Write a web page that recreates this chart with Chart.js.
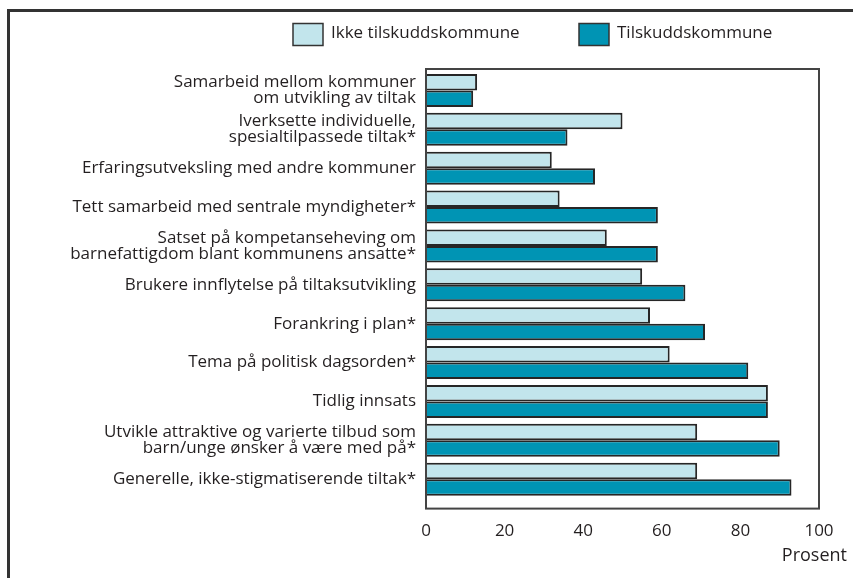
<!DOCTYPE html>
<html>
<head>
<meta charset="utf-8">
<script src="https://cdn.jsdelivr.net/npm/chart.js@4"></script>
<style>
  html, body { margin: 0; padding: 0; background: #fff; }
  #wrap { width: 853px; height: 578px; position: relative; }
</style>
</head>
<body>
<div id="wrap"><canvas id="chart"></canvas></div>
<script>
// kategorier, ovenfra og ned
const categories = [
    ['Samarbeid mellom kommuner', 'om utvikling av tiltak'],
    ['Iverksette individuelle,', 'spesialtilpassede tiltak*'],
    'Erfaringsutveksling med andre kommuner',
    'Tett samarbeid med sentrale myndigheter*',
    ['Satset på kompetanseheving om', 'barnefattigdom blant kommunens ansatte*'],
    'Brukere innflytelse på tiltaksutvikling',
    'Forankring i plan*',
    'Tema på politisk dagsorden*',
    'Tidlig innsats',
    ['Utvikle attraktive og varierte tilbud som', 'barn/unge ønsker å være med på*'],
    'Generelle, ikke-stigmatiserende tiltak*'
];
const ikkeTilskudd = [13, 50, 32, 34, 46, 55, 57, 62, 87, 69, 69];
const tilskudd = [12, 36, 43, 59, 59, 66, 71, 82, 87, 90, 93];
const xTicks = [0, 20, 40, 60, 80, 100];

const FONT = '"Open Sans", "Noto Sans", sans-serif';
const TEXT = '#231f20';

// ramme rundt plottet, tegnforklaring, "Prosent"
const decor = {
    id: 'decor',
    afterDraw(chart) {
        const ctx = chart.ctx;
        const a = chart.chartArea;
        ctx.save();
        // ytre ramme (topp og venstre)
        ctx.strokeStyle = '#333';
        ctx.lineWidth = 3;
        ctx.beginPath();
        ctx.moveTo(8.5, 578);
        ctx.lineTo(8.5, 10.5);
        ctx.lineTo(853, 10.5);
        ctx.stroke();
        // plotboks
        ctx.strokeStyle = '#444';
        ctx.lineWidth = 2;
        ctx.strokeRect(a.left, a.top - 2, a.right - a.left, a.bottom - a.top + 12);
        // tegnforklaring
        const items = [
            { x: 293, ds: chart.data.datasets[0] },
            { x: 579, ds: chart.data.datasets[1] }
        ];
        ctx.font = '17px ' + FONT;
        ctx.textBaseline = 'middle';
        ctx.textAlign = 'left';
        items.forEach(it => {
            ctx.fillStyle = it.ds.backgroundColor;
            ctx.fillRect(it.x, 23.5, 30, 22);
            ctx.strokeStyle = '#333';
            ctx.lineWidth = 1.5;
            ctx.strokeRect(it.x, 23.5, 30, 22);
            ctx.fillStyle = TEXT;
            ctx.fillText(it.ds.label, it.x + 38, 33);
        });
        // aksetittel
        ctx.textAlign = 'right';
        ctx.font = '18px ' + FONT;
        ctx.fillText('Prosent', 847, 556);
        ctx.restore();
    }
};

new Chart(document.getElementById('chart'), {
    type: 'bar',
    data: {
        labels: categories,
        datasets: [
            {
                label: 'Ikke tilskuddskommune',
                data: ikkeTilskudd,
                backgroundColor: '#c2e5ec',
                borderColor: '#262626',
                borderWidth: 2
            },
            {
                label: 'Tilskuddskommune',
                data: tilskudd,
                backgroundColor: '#0094b4',
                borderColor: '#262626',
                borderWidth: 2
            }
        ]
    },
    options: {
        indexAxis: 'y',
        responsive: true,
        maintainAspectRatio: false,
        animation: false,
        layout: { padding: { top: 71, right: 34, bottom: 15, left: 0 } },
        datasets: { bar: { categoryPercentage: 0.85, barPercentage: 1 } },
        plugins: {
            legend: { display: false },
            tooltip: { enabled: false }
        },
        scales: {
            x: {
                min: 0,
                max: 100,
                afterBuildTicks: (s) => { s.ticks = xTicks.map(v => ({ value: v })); },
                afterFit: (s) => { s.paddingRight = 0; s.paddingLeft = 0; },
                grid: { display: false, drawTicks: false },
                border: { display: false },
                ticks: { color: TEXT, padding: 22, font: { family: FONT, size: 17 } }
            },
            y: {
                afterFit: (s) => { s.width = 426; },
                grid: { display: false, drawTicks: false },
                border: { display: false },
                ticks: {
                    color: TEXT,
                    padding: 10,
                    autoSkip: false,
                    font: { family: FONT, size: 17, lineHeight: 0.93 }
                }
            }
        }
    },
    plugins: [decor]
});
</script>
</body>
</html>
